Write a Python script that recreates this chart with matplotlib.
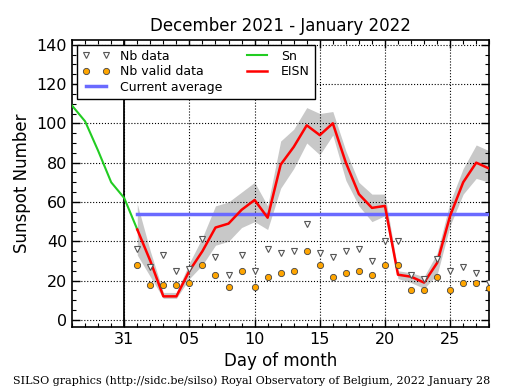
import matplotlib
matplotlib.use("Agg")
import matplotlib.pyplot as plt
from matplotlib.ticker import MultipleLocator
import numpy as np

# days counted from 31 December 2021 (0 = Dec 31, 1 = Jan 1, ...)
sn_days = [-4, -3, -2, -1, 0, 1]
sn_vals = [109, 101, 86, 70, 62, 46]

days = list(range(1, 29))
eisn = [46, 30, 12, 12, 25, 35, 47, 49, 56, 61, 52, 79, 88, 99, 94, 100,
        80, 64, 57, 58, 23, 22, 19, 29, 53, 70, 80, 77]
eisn_hi = [59, 35, 14, 14, 29, 42, 58, 60, 65, 70, 58, 91, 97, 108, 105, 106,
           86, 70, 64, 64, 25, 24, 22, 34, 60, 77, 89, 86]
eisn_lo = [33, 22, 11, 11, 21, 28, 38, 40, 47, 50, 46, 67, 77, 90, 84, 94,
           71, 58, 50, 53, 21, 19, 16, 23, 48, 64, 72, 70]
nb_data = [36, 27, 33, 25, 26, 41, 32, 23, 33, 25, 36, 34, 35, 49, 34, 32,
           35, 36, 30, 40, 40, 23, 21, 31, 25, 27, 24, 19]
nb_valid = [28, 18, 18, 18, 19, 28, 23, 17, 25, 17, 22, 24, 25, 35, 28, 22,
            24, 25, 23, 28, 28, 15, 15, 22, 15, 19, 19, 16]
current_avg = 54.1

tick_pos = [0, 5, 10, 15, 20, 25]
tick_lab = ['31', '05', '10', '15', '20', '25']

fig = plt.figure(figsize=(5.15, 3.9), dpi=100)
ax = fig.add_axes([0.14, 0.162, 0.81, 0.736])

ax.fill_between(days, eisn_lo, eisn_hi, color='#c8c8c8', lw=0, zorder=1)
ax.axvline(0, color='black', lw=1.3, zorder=2)
ax.plot(days, nb_data, 'v', ls='none', ms=4.5, mfc='white', mec='#555555',
        mew=0.8, label='Nb data', zorder=4)
ax.plot(days, nb_valid, 'o', ls='none', ms=4.5, mfc='#ffa500', mec='#444444',
        mew=0.6, label='Nb valid data', zorder=4)
ax.plot([days[0], days[-1]], [current_avg, current_avg], color='#6a6aff',
        lw=2.5, label='Current average', zorder=3)
ax.plot(sn_days, sn_vals, color='#22cc22', lw=1.5, label='Sn', zorder=3)
ax.plot(days, eisn, color='red', lw=1.8, label='EISN', zorder=3)

ax.set_xlim(-4, 28)
ax.set_ylim(-3.5, 142.5)
ax.set_xticks(tick_pos)
ax.set_xticklabels(tick_lab)
ax.xaxis.set_minor_locator(MultipleLocator(1))
ax.yaxis.set_major_locator(MultipleLocator(20))
ax.yaxis.set_minor_locator(MultipleLocator(5))
ax.tick_params(which='both', direction='in', top=True, right=True,
               labelsize=11.5)
ax.tick_params(which='major', length=6, width=1)
ax.tick_params(which='minor', length=3, width=0.8)
ax.grid(True, which='major', color='black', ls=':', lw=0.8)
for s in ax.spines.values():
    s.set_linewidth(1.2)

ax.set_title('December 2021 - January 2022', fontsize=12)
ax.set_ylabel('Sunspot Number', fontsize=12)
ax.set_xlabel('Day of month', fontsize=12)

leg = ax.legend(loc='upper left', ncol=2, numpoints=2, fontsize=9,
                fancybox=False, framealpha=1, edgecolor='black',
                borderaxespad=0.4, columnspacing=1.7, handlelength=2.2,
                labelspacing=0.2)
leg.get_frame().set_linewidth(1)

fig.text(0.025, 0.015,
         'SILSO graphics (http://sidc.be/silso) Royal Observatory of Belgium, 2022 January 28',
         family='DejaVu Serif', fontsize=8)

fig.savefig('out.png', dpi=100)
